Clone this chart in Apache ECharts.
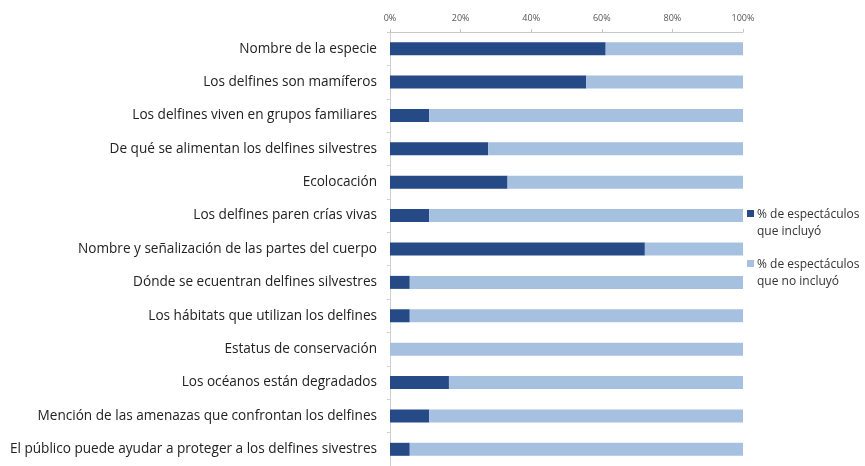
<!DOCTYPE html>
<html>
<head>
<meta charset="utf-8">
<script src="https://cdn.jsdelivr.net/npm/echarts@6/dist/echarts.min.js"></script>
<style>html,body{margin:0;padding:0;background:#fff}#c{width:865px;height:466px}</style>
</head>
<body>
<div id="c"></div>
<script>
var categories = [
  "Nombre de la especie",
  "Los delfines son mamíferos",
  "Los delfines viven en grupos familiares",
  "De qué se alimentan los delfines silvestres",
  "Ecolocación",
  "Los delfines paren crías vivas",
  "Nombre y señalización de las partes del cuerpo",
  "Dónde se ecuentran delfines silvestres",
  "Los hábitats que utilizan los delfines",
  "Estatus de conservación",
  "Los océanos están degradados",
  "Mención de las amenazas que confrontan los delfines",
  "El público puede ayudar a proteger a los delfines sivestres"
];
var incluyo = [61.1, 55.6, 11.1, 27.8, 33.3, 11.1, 72.2, 5.6, 5.6, 0, 16.7, 11.1, 5.6];
var noIncluyo = [38.9, 44.4, 88.9, 72.2, 66.7, 88.9, 27.8, 94.4, 94.4, 100, 83.3, 88.9, 94.4];
var seriesNames = ["% de espectáculos\nque incluyó", "% de espectáculos\nque no incluyó"];
var seriesColors = ['#264a86', '#a6c1e0'];
var xTicks = [0, 20, 40, 60, 80, 100];

var legendGraphics = [];
seriesNames.forEach(function (name, i) {
  var top = 206 + i * 50;
  legendGraphics.push({type: 'rect', left: 747, top: top + 4, shape: {width: 7, height: 7}, style: {fill: seriesColors[i]}});
  legendGraphics.push({type: 'text', left: 757, top: top, style: {text: name, font: '12px "Open Sans"', lineHeight: 17, fill: '#333'}});
});

var chart = echarts.init(document.getElementById('c'), null, {renderer: 'canvas'});
chart.setOption({
  animation: false,
  textStyle: {fontFamily: 'Open Sans'},
  grid: {left: 390, top: 32, width: 353, height: 442, containLabel: false},
  graphic: legendGraphics,
  xAxis: {
    type: 'value', position: 'top', min: xTicks[0], max: xTicks[xTicks.length - 1], interval: 20,
    axisLine: {show: true, lineStyle: {color: '#c8c8c8'}},
    axisTick: {show: true, length: 3, lineStyle: {color: '#c8c8c8'}},
    splitLine: {show: false},
    axisLabel: {formatter: '{value}%', fontSize: 9, color: '#555', margin: 9}
  },
  yAxis: {
    type: 'category', inverse: true, data: categories,
    axisLine: {show: true, lineStyle: {color: '#d0d0d0'}},
    axisTick: {show: true, length: 3, lineStyle: {color: '#d0d0d0'}},
    axisLabel: {fontSize: 13.6, color: '#222', margin: 13}
  },
  series: [
    {name: seriesNames[0], type: 'bar', stack: 's', barWidth: 13, data: incluyo, itemStyle: {color: seriesColors[0]}},
    {name: seriesNames[1], type: 'bar', stack: 's', barWidth: 13, data: noIncluyo, itemStyle: {color: seriesColors[1]}}
  ]
});
</script>
</body>
</html>
